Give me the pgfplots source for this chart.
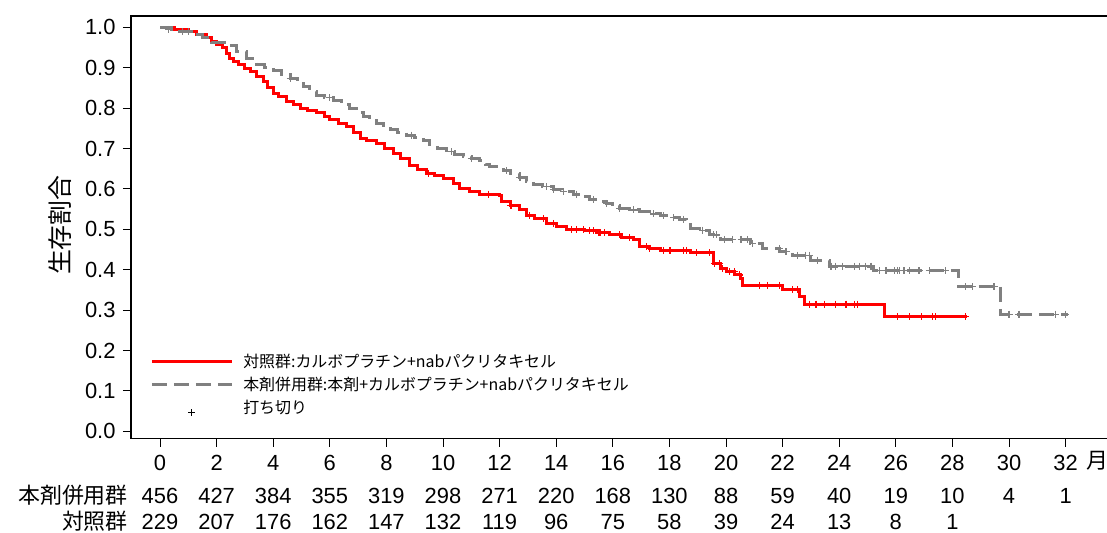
\documentclass[border=0pt]{standalone}
\usepackage{fontspec}
\setmainfont{Liberation Sans}
\newfontfamily\cjk{Noto Sans CJK JP}
\usepackage{pgfplots}
\pgfplotsset{compat=1.18}
\definecolor{kmred}{RGB}{255,0,0}
\definecolor{kmgray}{RGB}{128,128,128}
\begin{document}
\begin{tikzpicture}
\begin{axis}[
  at={(0,0)}, anchor=south west,
  scale only axis, width=977.9bp, height=422.6bp,
  xmin=-1.025, xmax=33.53, ymin=-0.018, ymax=1.028,
  xtick={0,2,4,6,8,10,12,14,16,18,20,22,24,26,28,30,32},
  ytick={0,0.1,0.2,0.3,0.4,0.5,0.6,0.7,0.8,0.9,1.0},
  yticklabel style={/pgf/number format/fixed,/pgf/number format/fixed zerofill,/pgf/number format/precision=1, xshift=-4bp},
  xticklabel style={yshift=-5bp},
  /pgf/number format/assume math mode=true,
  tick align=outside, major tick length=8bp,
  xtick pos=bottom, ytick pos=left,
  tick style={black, line width=1bp},
  axis line style={black, line width=1.2bp},
  ticklabel style={font=\fontsize{22}{26}\selectfont},
  ylabel={\cjk 生存割合},
  ylabel style={font=\fontsize{25}{28}\selectfont, at={(axis description cs:-0.0726,0.505)}, anchor=center},
  clip=false,
  legend style={at={(axis cs:-0.35,0.197)}, anchor=north west, draw=none, fill=none,
    font=\cjk\fontsize{16}{19}\selectfont, row sep=4bp, inner sep=0pt,
    /tikz/every odd column/.append style={column sep=8bp}},
  legend cell align=left,
  legend image code/.code={\draw[#1] (0bp,0bp) -- (80bp,0bp);},
]
% control group (red)
\addplot[const plot mark left, kmred, line width=3bp] coordinates {
(0,1.0) (0.5,0.995) (1.0,0.99) (1.3,0.983) (1.65,0.975) (1.83,0.964) (2.0,0.958)
(2.2,0.950) (2.35,0.935) (2.47,0.923) (2.6,0.915) (2.77,0.907) (3.0,0.898) (3.18,0.890)
(3.4,0.878) (3.65,0.865) (3.8,0.852) (4.0,0.837) (4.2,0.828) (4.48,0.816) (4.7,0.808)
(4.95,0.800) (5.2,0.795) (5.54,0.789) (5.8,0.780) (6.0,0.771) (6.3,0.763) (6.6,0.754)
(6.85,0.740) (7.07,0.725) (7.3,0.720) (7.66,0.713) (7.95,0.700) (8.24,0.688) (8.5,0.675)
(8.83,0.659) (9.1,0.648) (9.42,0.639) (9.7,0.634) (10.0,0.626) (10.36,0.614) (10.6,0.601)
(10.95,0.593) (11.3,0.587) (12.0,0.584) (12.07,0.568) (12.37,0.558) (12.72,0.548)
(12.96,0.535) (13.25,0.527) (13.66,0.515) (14.0,0.507) (14.37,0.500) (15.0,0.496)
(15.43,0.492) (15.9,0.486) (16.3,0.480) (16.72,0.476) (16.96,0.457) (17.3,0.452)
(17.67,0.448) (18.73,0.442) (19.55,0.416) (19.8,0.403) (20.0,0.395) (20.3,0.387)
(20.5,0.379) (20.6,0.362) (21.98,0.350) (22.6,0.333) (22.76,0.315) (25.6,0.284) (28.53,0.284)
};
\addlegendentry{対照群:カルボプラチン+nabパクリタキセル}
% combination group (gray dashed)
\addplot[const plot mark left, kmgray, line width=3bp, dash pattern=on 15bp off 7bp] coordinates {
(0,1.0) (0.4,0.995) (0.55,0.990) (1.17,0.981) (1.5,0.975) (1.83,0.962) (2.36,0.955)
(2.71,0.940) (3.06,0.923) (3.42,0.907) (3.7,0.900) (4.0,0.894) (4.3,0.884) (4.6,0.874)
(4.85,0.862) (5.06,0.853) (5.3,0.842) (5.54,0.832) (5.8,0.826) (6.12,0.820) (6.4,0.810)
(6.71,0.800) (6.95,0.789) (7.18,0.779) (7.4,0.770) (7.66,0.762) (7.9,0.753) (8.13,0.746)
(8.4,0.740) (8.72,0.733) (9.0,0.727) (9.3,0.720) (9.54,0.709) (9.8,0.700) (10.13,0.692)
(10.4,0.686) (10.72,0.680) (11.0,0.675) (11.3,0.670) (11.5,0.660) (11.66,0.655)
(12.13,0.645) (12.4,0.637) (12.72,0.629) (12.95,0.618) (13.19,0.610) (13.5,0.605)
(13.9,0.599) (14.2,0.593) (14.6,0.587) (14.9,0.580) (15.19,0.574) (15.5,0.569)
(15.78,0.564) (16.0,0.558) (16.25,0.552) (16.6,0.548) (16.96,0.544) (17.3,0.538)
(17.67,0.533) (18.0,0.529) (18.37,0.525) (18.6,0.512) (18.73,0.502) (19.06,0.498)
(19.43,0.486) (19.8,0.475) (20.85,0.465) (21.3,0.453) (21.9,0.445) (22.35,0.436)
(23.0,0.424) (23.65,0.409) (25.2,0.398) (28.2,0.358) (29.7,0.290) (32.1,0.290)
};
\addlegendentry{本剤併用群:本剤+カルボプラチン+nabパクリタキセル}
% censored (red)
\addplot[only marks, mark=+, mark size=3.5bp, kmred, line width=1.2bp, forget plot] coordinates {
(9.5,0.639) (11.6,0.587) (12.4,0.558)
(13.07,0.535) (13.55,0.527) (13.9,0.515) (14.55,0.500) (14.72,0.500) (14.96,0.500)
(15.19,0.496) (15.31,0.496) (15.49,0.492) (15.55,0.492) (15.72,0.492) (16.25,0.486)
(16.6,0.480) (17.2,0.457) (17.31,0.452) (17.78,0.448) (18.02,0.448) (18.49,0.448)
(18.61,0.448) (18.96,0.442) (19.43,0.442) (19.59,0.416) (19.76,0.416) (19.88,0.403)
(20.12,0.395) (20.29,0.395) (20.47,0.387) (21.18,0.362) (21.47,0.362) (21.88,0.362)
(22.35,0.350) (22.53,0.350) (22.94,0.315) (23.18,0.315) (23.47,0.315) (23.88,0.315)
(24.24,0.315) (24.53,0.315) (24.65,0.315) (26.06,0.284) (26.49,0.284) (26.92,0.284)
(27.29,0.284) (27.39,0.284) (28.47,0.284)
};
% censored (gray)
\addplot[only marks, mark=+, mark size=3.5bp, kmgray, line width=1.2bp, forget plot] coordinates {
(0.3,0.995) (0.8,0.990) (1.0,0.990) (4.6,0.874) (6.0,0.826) (8.9,0.733) (10.3,0.692) (11.0,0.675)
(12.25,0.645) (12.72,0.629) (13.66,0.605) (13.9,0.599) (14.25,0.593) (14.72,0.587)
(15.31,0.574) (15.78,0.564) (16.25,0.552) (16.72,0.548) (17.43,0.538) (17.78,0.533)
(18.14,0.529) (18.49,0.525) (19.18,0.498) (19.55,0.486) (19.65,0.486) (19.94,0.475)
(20.24,0.475) (20.53,0.475) (20.76,0.475) (20.94,0.465) (21.88,0.453) (22.12,0.445)
(22.53,0.436) (22.82,0.436) (22.94,0.436) (23.24,0.424) (23.71,0.409) (23.88,0.409)
(24.12,0.409) (24.53,0.409) (24.71,0.409) (24.94,0.409) (25.12,0.409) (25.41,0.398)
(25.65,0.398) (25.94,0.398) (26.06,0.398) (26.12,0.398) (26.29,0.398) (26.47,0.398)
(26.82,0.398) (27.18,0.398) (27.76,0.398) (28.47,0.358) (28.71,0.358) (29.47,0.358)
(30.0,0.290) (30.35,0.290) (31.65,0.290) (32.0,0.290)
};
\addlegendimage{legend image code/.code={\draw[black,line width=0.8bp] (36.5bp,-5bp) -- (43.5bp,-5bp) (40bp,-8.5bp) -- (40bp,-1.5bp);}}
\addlegendentry{打ち切り}
% number at risk
\pgfplotsforeachungrouped \x/\n in {0/456,2/427,4/384,6/355,8/319,10/298,12/271,14/220,16/168,18/130,20/88,22/59,24/40,26/19,28/10,30/4,32/1}{%
  \edef\tmp{\noexpand\node[anchor=base, inner sep=0pt, font=\noexpand\fontsize{22}{26}\noexpand\selectfont] at (axis cs:\x,-0.1775) {\n};}\tmp}
\pgfplotsforeachungrouped \x/\n in {0/229,2/207,4/176,6/162,8/147,10/132,12/119,14/96,16/75,18/58,20/39,22/24,24/13,26/8,28/1}{%
  \edef\tmp{\noexpand\node[anchor=base, inner sep=0pt, font=\noexpand\fontsize{22}{26}\noexpand\selectfont] at (axis cs:\x,-0.2418) {\n};}\tmp}
\node[anchor=base east, inner sep=0pt, font=\cjk\fontsize{22}{26}\selectfont] at (axis cs:-1.131,-0.1775) {本剤併用群};
\node[anchor=base east, inner sep=0pt, font=\cjk\fontsize{22}{26}\selectfont] at (axis cs:-1.131,-0.2418) {対照群};
\node[anchor=base, inner sep=0pt, font=\cjk\fontsize{22}{26}\selectfont] at (axis cs:33.11,-0.092) {月};
\end{axis}
\pgfresetboundingbox
\path[use as bounding box] (-131bp,-93.5bp) rectangle (976bp,438.6bp);
\end{tikzpicture}
\end{document}
